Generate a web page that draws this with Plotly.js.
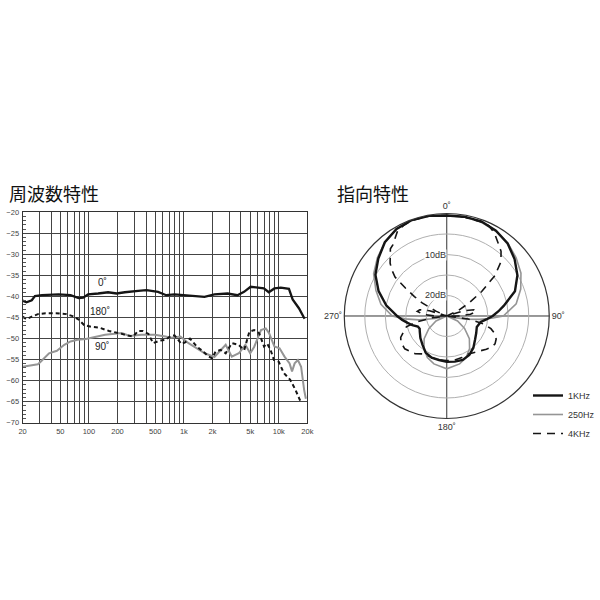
<!DOCTYPE html>
<html>
<head>
<meta charset="utf-8">
<script src="https://cdn.plot.ly/plotly-3.0.1.min.js"></script>
<style>html,body{margin:0;padding:0;background:#fff;}#chart{width:600px;height:600px;}</style>
</head>
<body>
<div id="chart"></div>
<script>
// ---------- Frequency response (周波数特性) ----------
const freq0 = [20,22,25,27,32,48,64,78,87,98,125,159,196,239,330,404,535,652,797,1030,1410,1650,2100,2890,3670,4310,5050,5930,6970,7850,8990,10500,12800,14000,16300,18700];
const level0 = [-41.0,-41.4,-40.9,-39.9,-39.7,-39.5,-39.7,-40.4,-40.3,-39.5,-39.3,-39.0,-39.3,-39.0,-38.7,-38.5,-38.9,-39.7,-39.5,-39.7,-40.1,-40.1,-39.5,-39.3,-39.7,-38.9,-37.7,-37.9,-38.1,-39.0,-38.1,-37.9,-38.2,-40.7,-42.8,-45.3];

const freq180 = [20,22,25,29,35,45,58,70,79,89,105,128,163,192,222,259,292,330,369,424,474,556,640,741,800,945,1030,1160,1370,1600,1830,1990,2160,2440,2760,3200,3770,4330,4900,5500,6200,7000,7550,8200,8900,10000,11300,13200,15000,17000];
const level180 = [-44.8,-45.4,-44.8,-44.2,-44.0,-44.0,-44.2,-44.8,-45.6,-46.8,-47.2,-47.4,-48.2,-48.5,-48.9,-49.3,-49.5,-48.2,-48.2,-48.9,-51.1,-50.5,-50.3,-49.3,-49.3,-51.3,-50.9,-50.0,-51.9,-53.1,-54.3,-54.7,-53.1,-52.7,-53.5,-51.1,-51.5,-52.7,-48.4,-48.0,-48.7,-51.9,-51.2,-52.7,-55.1,-55.5,-58.2,-59.8,-62.2,-65.0];

const freq90 = [20,27,29,31,38,46,55,64,76,93,109,148,222,269,356,494,640,741,920,1120,1360,1660,2100,2440,2760,3200,3800,4450,5000,5500,6500,7300,7900,9000,10200,11500,13000,13800,14700,15900,17200,18500,19300];
const level90 = [-56.7,-56.3,-56.1,-55.5,-53.5,-52.9,-51.5,-50.7,-50.3,-50.1,-49.7,-49.1,-48.7,-49.4,-49.1,-49.1,-49.5,-49.8,-49.5,-51.1,-52.3,-53.5,-54.4,-52.7,-51.5,-54.3,-53.5,-51.5,-53.5,-52.0,-48.0,-47.6,-48.7,-51.9,-52.3,-54.3,-55.9,-57.8,-55.9,-55.1,-56.7,-62.2,-64.3];

const xTickVals = [20,50,100,200,500,1000,2000,5000,10000,20000];
const xTickText = ['20','50','100','200','500','1k','2k','5k','10k','20k'];
const yTickVals = [-20,-25,-30,-35,-40,-45,-50,-55,-60,-65,-70];
const curveLabels = ['0˚','180˚','90˚'];

// ---------- Polar pattern (指向特性) ----------
const theta1k = [0,10,20,30,40,50,60,70,80,85,90,95,100,110,120,130,140,150,160,170,180,190,200,210,220,230,240,245,250,255,260,265,270,280,290,300,310,320,330,340,350,360];
const level1k = [-0.5,-0.4,-0.4,-1.0,-1.9,-3.4,-5.1,-7.3,-10.9,-12.4,-13.8,-15.3,-16.6,-17.2,-16.7,-16.0,-14.9,-14.0,-13.6,-13.7,-13.8,-14.1,-14.2,-14.7,-15.8,-16.6,-17.4,-17.7,-17.5,-16.3,-15.3,-14.1,-12.9,-10.0,-7.3,-4.9,-3.2,-1.5,-0.5,-0.1,-0.2,-0.5];

const theta250 = [0,10,20,30,40,50,60,70,80,90,93,96,99,102,105,115,125,135,145,155,165,180,195,205,215,225,235,245,255,258,262,266,270,280,290,300,310,320,330,340,350,360];
const level250 = [-0.5,-0.5,-0.6,-1.1,-1.8,-2.9,-4.1,-5.8,-7.8,-11.2,-14.1,-17.0,-20.1,-23.1,-25,-22.1,-19.7,-17.2,-15.3,-13.8,-12.9,-12.1,-12.9,-13.8,-15.3,-17.2,-19.7,-22.1,-25,-22.1,-18.2,-14.8,-11.7,-8.7,-6.6,-4.4,-2.9,-1.5,-0.5,-0.1,-0.2,-0.5];

const theta4k = [0,10,20,25,30,35,40,45,50,55,60,65,69,73,77,81,86,90,94,98,102,106,110,115,120,125,130,140,150,160,170,180,190,200,210,220,232,240,245,250,255,259,263,266,270,274,279,283,287,291,294,298,301,304,307,310,313,320,323,330,335,340,350,360];
const level4k = [-0.5,-0.5,-0.6,-0.7,-1.7,-3.2,-4.4,-6.3,-9.7,-14.6,-18.9,-22.1,-25,-20.6,-18.2,-17.7,-19.2,-22.1,-25,-19.7,-15.8,-13.8,-12.6,-11.7,-11.4,-11.7,-12.4,-13.6,-14.3,-14.2,-14.1,-14.1,-14.1,-14.2,-14.3,-13.0,-12.0,-12.1,-12.6,-13.8,-14.8,-17.7,-21.4,-25,-22.1,-19.2,-17.7,-18.2,-20.6,-25,-22.1,-18.2,-15.8,-12.9,-9.2,-7.5,-6.1,-3.6,-3.2,-1.0,-0.5,-0.2,-0.2,-0.5];

const angleVals = [0,90,180,270];
const angleText = ['0˚','90˚','180˚','270˚'];
const ringVals = [-20,-15,-10,-5];
const ringLabels = ['20dB','10dB'];
const legendNames = ['1KHz','250Hz','4KHz'];
const titles = ['周波数特性','指向特性'];

// grid frequencies (1..9 multiples in each decade)
const gridFreqs = [];
for (let d = 10; d <= 10000; d *= 10) {
  for (let m = 1; m <= 9; m++) {
    const f = m * d;
    if (f >= 20 && f <= 20000) gridFreqs.push(f);
  }
}
gridFreqs.push(20000);
const gridText = gridFreqs.map(f => {
  const i = xTickVals.indexOf(f);
  return i >= 0 ? xTickText[i] : '';
});

const BLACK = '#151515';
const GRAY = '#959595';
const FONT = 'Liberation Sans, Arial, sans-serif';

const traces = [
  {x: freq90, y: level90, type: 'scatter', mode: 'lines', xaxis: 'x', yaxis: 'y',
   line: {color: GRAY, width: 2}, showlegend: false},
  {x: freq180, y: level180, type: 'scatter', mode: 'lines', xaxis: 'x', yaxis: 'y',
   line: {color: BLACK, width: 2, dash: '4px,3px'}, showlegend: false},
  {x: freq0, y: level0, type: 'scatter', mode: 'lines', xaxis: 'x', yaxis: 'y',
   line: {color: BLACK, width: 2.3}, showlegend: false},
  {r: level250, theta: theta250, type: 'scatterpolar', mode: 'lines', subplot: 'polar',
   name: legendNames[1], legendrank: 2, line: {color: GRAY, width: 1.6}},
  {r: level4k, theta: theta4k, type: 'scatterpolar', mode: 'lines', subplot: 'polar',
   name: legendNames[2], legendrank: 3, line: {color: BLACK, width: 1.6, dash: '8px,6px'}},
  {r: level1k, theta: theta1k, type: 'scatterpolar', mode: 'lines', subplot: 'polar',
   name: legendNames[0], legendrank: 1, line: {color: BLACK, width: 2.4}}
];

const layout = {
  width: 600, height: 600,
  margin: {l: 0, r: 0, t: 0, b: 0},
  paper_bgcolor: '#fff', plot_bgcolor: '#fff',
  font: {family: FONT, color: '#333'},
  xaxis: {
    type: 'log', domain: [0.0378, 0.5148],
    range: [Math.log10(20), Math.log10(20000)],
    tickmode: 'array', tickvals: gridFreqs, ticktext: gridText,
    showgrid: true, gridcolor: '#444', gridwidth: 1,
    showline: true, linecolor: '#333', linewidth: 1, mirror: true,
    ticks: '', tickfont: {size: 7.5, color: '#444'}, ticklabelstandoff: 1,
    zeroline: false, fixedrange: true
  },
  yaxis: {
    domain: [0.2955, 0.6462], range: [-70, -20],
    tickmode: 'array', tickvals: yTickVals,
    showgrid: true, gridcolor: '#444', gridwidth: 1,
    showline: true, linecolor: '#333', linewidth: 1, mirror: true,
    ticks: 'inside', ticklen: 5, tickcolor: '#444',
    minor: {dtick: 1, ticks: 'inside', ticklen: 3, tickcolor: '#555', showgrid: false},
    tickfont: {size: 7.5, color: '#444'}, ticklabelstandoff: 1,
    zeroline: false, fixedrange: true
  },
  polar: {
    domain: {x: [0.5767, 0.92], y: [0.3017, 0.645]},
    bgcolor: '#fff',
    radialaxis: {
      range: [-25, 0], tickmode: 'array', tickvals: ringVals,
      showticklabels: false, ticks: '', showline: false,
      gridcolor: '#b0b0b0', gridwidth: 1
    },
    angularaxis: {
      rotation: 90, direction: 'clockwise',
      tickmode: 'array', tickvals: angleVals, ticktext: angleText,
      ticks: '', showgrid: true, gridcolor: '#333', gridwidth: 1,
      showline: true, linecolor: '#333', linewidth: 1.2,
      tickfont: {size: 9, color: '#333'}
    }
  },
  showlegend: true,
  legend: {
    x: 0.885, y: 0.365, xanchor: 'left', yanchor: 'top',
    bgcolor: 'rgba(0,0,0,0)', borderwidth: 0,
    font: {size: 9, color: '#333', family: FONT},
    itemwidth: 30, tracegroupgap: 0
  },
  annotations: [
    {text: titles[0], xref: 'paper', yref: 'paper', x: 0.011, y: 1 - 193/600,
     xanchor: 'left', yanchor: 'middle', showarrow: false,
     font: {size: 18, color: '#111', family: 'Noto Sans CJK JP'}},
    {text: titles[1], xref: 'paper', yref: 'paper', x: 0.561, y: 1 - 193/600,
     xanchor: 'left', yanchor: 'middle', showarrow: false,
     font: {size: 18, color: '#111', family: 'Noto Sans CJK JP'}},
    {text: curveLabels[0], xref: 'x', yref: 'y', x: 2.144, y: -36.75, showarrow: false,
     font: {size: 10, color: '#222'}},
    {text: curveLabels[1], xref: 'x', yref: 'y', x: 2.112, y: -43.6, showarrow: false,
     font: {size: 10, color: '#222'}},
    {text: curveLabels[2], xref: 'x', yref: 'y', x: 2.133, y: -51.9, showarrow: false,
     font: {size: 10, color: '#222'}},
    {text: ringLabels[1], xref: 'paper', yref: 'paper', x: 449/600, y: 1 - 255/600,
     showarrow: false, bgcolor: '#fff', borderpad: 0,
     font: {size: 9, color: '#333'}},
    {text: ringLabels[0], xref: 'paper', yref: 'paper', x: 449/600, y: 1 - 295.5/600,
     showarrow: false, bgcolor: '#fff', borderpad: 0,
     font: {size: 9, color: '#333'}}
  ]
};

Plotly.newPlot('chart', traces, layout, {staticPlot: true, displayModeBar: false});
</script>
</body>
</html>
